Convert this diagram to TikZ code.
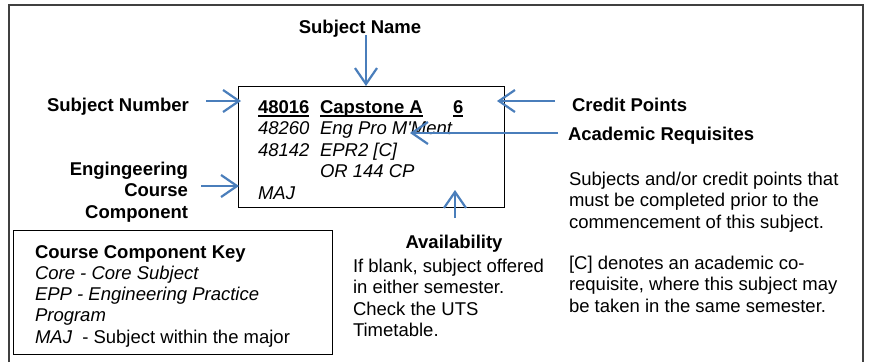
\documentclass[tikz,border=0pt]{standalone}
\usepackage{fontspec}
\setmainfont{Liberation Sans}
\usetikzlibrary{arrows.meta}
\definecolor{arrowblue}{HTML}{4A7EBB}
\definecolor{framegray}{HTML}{404040}
\begin{document}
\begin{tikzpicture}[x=1pt,y=-1pt,
  txt/.style={inner sep=0pt,outer sep=0pt,font=\fontsize{18.5}{21.5}\selectfont},
  lbl/.style={txt,font=\fontsize{18.5}{21.5}\selectfont\bfseries},
  itx/.style={txt,font=\fontsize{18.5}{21.5}\selectfont\itshape},
  arr/.style={draw=arrowblue,line width=2.2pt,-{Straight Barb[length=16pt,width=22pt]}},
  uline/.style={line width=1.4pt},
  boxline/.style={draw=black,line width=1pt}]
\useasboundingbox (0,0) rectangle (870,362);
% outer frame
\draw[framegray,line width=1.6pt] (9,362) -- (9,5) -- (863,5) -- (863,362);
% main subject box
\node[boxline,inner sep=0pt,minimum width=266pt,minimum height=121pt,anchor=north west] (box) at (238,86) {};
% key box
\node[draw=black,line width=1.3pt,inner sep=0pt,minimum width=319pt,minimum height=124pt,anchor=north west] (key) at (13,230) {};
% box contents
\node[lbl,anchor=base west] (num) at (258,113) {48016};
\node[lbl,anchor=base west] (name) at (320,113) {Capstone A};
\node[lbl,anchor=base west] (cp) at (453,113) {6};
\draw[uline] ([yshift=-3pt]num.base west) -- ([yshift=-3pt]num.base east);
\draw[uline] ([yshift=-3pt]name.base west) -- ([yshift=-3pt]name.base east);
\draw[uline] ([yshift=-3pt]cp.base west) -- ([yshift=-3pt]cp.base east);
\node[itx,anchor=base west] (r2a) at (258,134.5) {48260};
\node[itx,anchor=base west] (r2b) at (320,134.5) {Eng Pro M\textquotesingle Ment};
\node[itx,anchor=base west] (r3a) at (258,156) {48142};
\node[itx,anchor=base west] (r3b) at (320,156) {EPR2 [C]};
\node[itx,anchor=base west] (r4b) at (320,177.5) {OR 144 CP};
\node[itx,anchor=base west] (r5a) at (258,199) {MAJ};
% labels
\node[lbl,anchor=base] (lname) at (360,33) {Subject Name};
\node[lbl,anchor=base west] (lnum) at (47,111) {Subject Number};
\node[lbl,anchor=base west] (lcp) at (572,111) {Credit Points};
\node[lbl,anchor=base west] (lreq) at (568,140) {Academic Requisites};
\node[lbl,anchor=base east] (leng1) at (188,175) {Engingeering};
\node[lbl,anchor=base east] (leng2) at (188,196.5) {Course};
\node[lbl,anchor=base east] (leng3) at (188,218) {Component};
\node[lbl,anchor=base] (lav) at (454,248) {Availability};
% availability text
\node[txt,anchor=base west] (av1) at (353,272) {If blank, subject offered};
\node[txt,anchor=base west] (av2) at (353,293.5) {in either semester.};
\node[txt,anchor=base west] (av3) at (353,315) {Check the UTS};
\node[txt,anchor=base west] (av4) at (353,336.5) {Timetable.};
% requisites text
\node[txt,anchor=base west] (rq1) at (569,185) {Subjects and/or credit points that};
\node[txt,anchor=base west] (rq2) at (569,206.5) {must be completed prior to the};
\node[txt,anchor=base west] (rq3) at (569,228) {commencement of this subject.};
\node[txt,anchor=base west] (rq4) at (569,269) {[C] denotes an academic co-};
\node[txt,anchor=base west] (rq5) at (569,290.5) {requisite, where this subject may};
\node[txt,anchor=base west] (rq6) at (569,312) {be taken in the same semester.};
% key text
\node[lbl,anchor=base west] (k1) at (35,258) {Course Component Key};
\node[itx,anchor=base west] (k2) at (35,279.3) {Core - Core Subject};
\node[itx,anchor=base west] (k3) at (35,300.6) {EPP - Engineering Practice};
\node[itx,anchor=base west] (k4) at (35,321.9) {Program};
\node[txt,anchor=base west] (k5) at (35,343.2) {\itshape MAJ\upshape\ \ - Subject within the major};
% arrow end points
\coordinate (a1s) at (366,35);  \coordinate (a1e) at (366,86);
\coordinate (a2s) at (206,101); \coordinate (a2e) at (241,101);
\coordinate (a3s) at (555,101); \coordinate (a3e) at (497,101);
\coordinate (a4s) at (558,133); \coordinate (a4e) at (410,133);
\coordinate (a5s) at (201,186); \coordinate (a5e) at (239,186);
\coordinate (a6s) at (455,218); \coordinate (a6e) at (455,190);
\draw[arr] (a1s) -- (a1e);
\draw[arr] (a2s) -- (a2e);
\draw[arr] (a3s) -- (a3e);
\draw[arr] (a4s) -- (a4e);
\draw[arr] (a5s) -- (a5e);
\draw[arr] (a6s) -- (a6e);
\end{tikzpicture}
\end{document}
